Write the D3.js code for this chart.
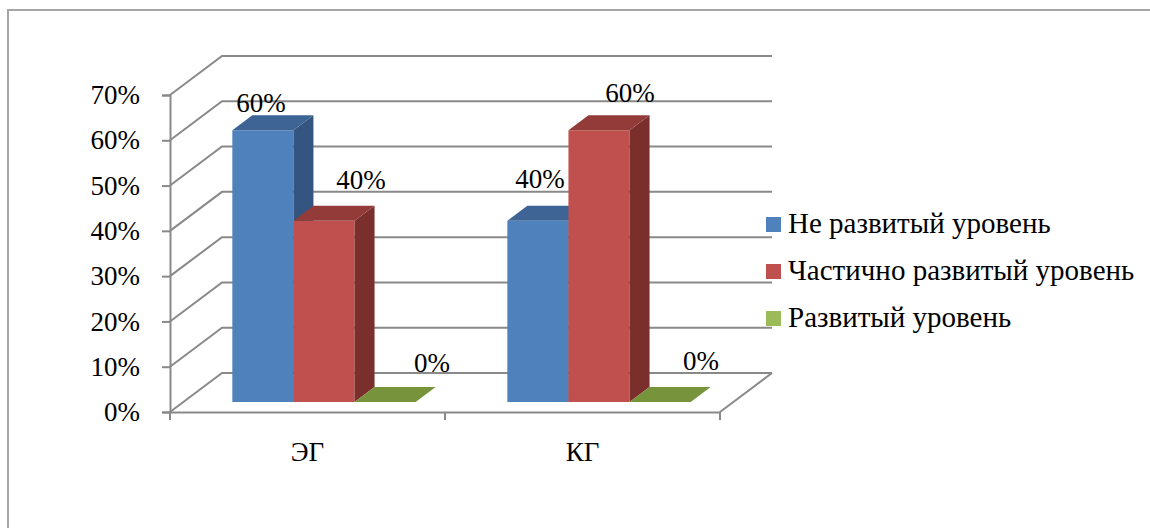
<!DOCTYPE html>
<html>
<head>
<meta charset="utf-8">
<script src="https://cdn.jsdelivr.net/npm/d3@7"></script>
<style>
  html, body { margin: 0; padding: 0; background: #fff; }
  svg { display: block; }
</style>
</head>
<body>
<svg id="chart" width="1150" height="528"></svg>
<script>
// Groups on the x axis
const categories = ["ЭГ", "КГ"];
// Series (legend entries)
const seriesNames = ["Не развитый уровень", "Частично развитый уровень", "Развитый уровень"];
// Share of each level per group, one array per series
const notDeveloped = [0.6, 0.4];
const partlyDeveloped = [0.4, 0.6];
const developed = [0.0, 0.0];
const seriesValues = [notDeveloped, partlyDeveloped, developed];
// Value axis ticks
const yTicks = [0, 0.1, 0.2, 0.3, 0.4, 0.5, 0.6, 0.7];

const FONT = "'Liberation Serif'";

// Face colours per series: front, top, side
const palette = [
  { legend: "#4F81BD", front: "#4F81BD", top: "#3E6495", side: "#34557F" },
  { legend: "#C0504D", front: "#C0504D", top: "#933B39", side: "#7B2F2D" },
  { legend: "#9BBB59", front: "#9BBB59", top: "#77933C", side: "#5F7630" }
];

// Label nudges relative to the front-top centre of each bar
const labelNudge = [
  [[-2, -18], [2, -33]],
  [[37, -32], [31, -28]],
  [[47, -30], [41, -32]]
];

const svg = d3.select("#chart");
const fmt = d3.format(".0%");

// Plot geometry: front plane scales and the oblique depth of the walls
const y = d3.scaleLinear().domain([0, 0.7]).range([412, 95]);
const x = d3.scaleBand().domain(categories).range([170, 720]);
const xs = d3.scaleBand().domain(d3.range(seriesNames.length))
  .range([0, x.bandwidth()]).paddingInner(0).paddingOuter(0.75);
const wall = { dx: 52, dy: -39 };
const barShift = { dx: 16.5, dy: -10 };
const barDepth = { dx: 20, dy: -15 };

// Outer chart frame
svg.append("rect")
  .attr("x", 8).attr("y", 10).attr("width", 1300).attr("height", 700)
  .attr("fill", "none").attr("stroke", "#A5A5A5").attr("stroke-width", 2);

const grid = svg.append("g")
  .attr("fill", "none").attr("stroke", "#898989").attr("stroke-width", 2);

const [x0, x1] = x.range();
// Gridlines run along the side wall, then across the back wall
yTicks.forEach(t => {
  const yf = y(t);
  grid.append("path").attr("d",
    `M${x0},${yf}L${x0 + wall.dx},${yf + wall.dy}L${x1 + wall.dx},${yf + wall.dy}`);
});
// Floor right edge
grid.append("path").attr("d",
  `M${x1},${y(0)}L${x1 + wall.dx},${y(0) + wall.dy}`);

function serif(sel, size) {
  sel.attr("font-family", "Liberation Serif")
    .style("font-family", FONT)
    .style("font-size", size + "px")
    .attr("fill", "#000");
}

// Value axis with ticks on the left
const yAxis = d3.axisLeft(y).tickValues(yTicks).tickFormat(fmt).tickSize(8).tickPadding(22);
const gy = svg.append("g").attr("transform", `translate(${x0},0)`).call(yAxis)
  .attr("font-family", null).attr("font-size", null);
gy.select(".domain").attr("stroke", "#898989").attr("stroke-width", 2);
gy.selectAll(".tick line").attr("stroke", "#898989").attr("stroke-width", 2);
gy.selectAll(".tick text").call(serif, 27);

// Category axis along the front edge of the floor
const xAxis = d3.axisBottom(x).tickSize(0).tickPadding(30);
const gx = svg.append("g").attr("transform", `translate(0,${y(0)})`).call(xAxis)
  .attr("font-family", null).attr("font-size", null);
gx.select(".domain").attr("stroke", "#898989").attr("stroke-width", 2);
gx.selectAll(".tick text").call(serif, 27);
// Tick marks at the band boundaries
const bounds = categories.map(c => x(c)).concat([x1]);
gx.selectAll(".bound").data(bounds).join("line")
  .attr("class", "bound")
  .attr("x1", d => d).attr("x2", d => d).attr("y1", 0).attr("y2", 8)
  .attr("stroke", "#898989").attr("stroke-width", 2);

// 3D columns, drawn left to right so nearer faces overlap correctly
const bars = svg.append("g");
const labels = svg.append("g");
categories.forEach((cat, ci) => {
  seriesNames.forEach((name, si) => {
    const v = seriesValues[si][ci];
    const bx = x(cat) + xs(si) + barShift.dx;
    const w = xs.bandwidth();
    const yt = y(v) + barShift.dy;
    const yb = y(0) + barShift.dy;
    const c = palette[si];
    const g = bars.append("g");
    if (yb - yt > 0) {
      g.append("rect").attr("x", bx).attr("y", yt).attr("width", w).attr("height", yb - yt)
        .attr("fill", c.front);
      g.append("path").attr("fill", c.side).attr("d",
        `M${bx + w},${yt}L${bx + w + barDepth.dx},${yt + barDepth.dy}` +
        `L${bx + w + barDepth.dx},${yb + barDepth.dy}L${bx + w},${yb}Z`);
    }
    g.append("path").attr("fill", c.top).attr("d",
      `M${bx},${yt}L${bx + w},${yt}L${bx + w + barDepth.dx},${yt + barDepth.dy}` +
      `L${bx + barDepth.dx},${yt + barDepth.dy}Z`);

    const [nx, ny] = labelNudge[si][ci];
    labels.append("text")
      .attr("x", bx + w / 2 + nx).attr("y", yt + ny)
      .attr("text-anchor", "middle")
      .call(serif, 27)
      .text(fmt(v));
  });
});

// Legend
const legend = svg.append("g").attr("transform", "translate(766,217)");
seriesNames.forEach((name, i) => {
  const row = legend.append("g").attr("transform", `translate(0,${i * 47})`);
  row.append("rect").attr("width", 15).attr("height", 15).attr("fill", palette[i].legend);
  row.append("text").attr("x", 22).attr("y", 16)
    .call(serif, 29)
    .text(name);
});
</script>
</body>
</html>
